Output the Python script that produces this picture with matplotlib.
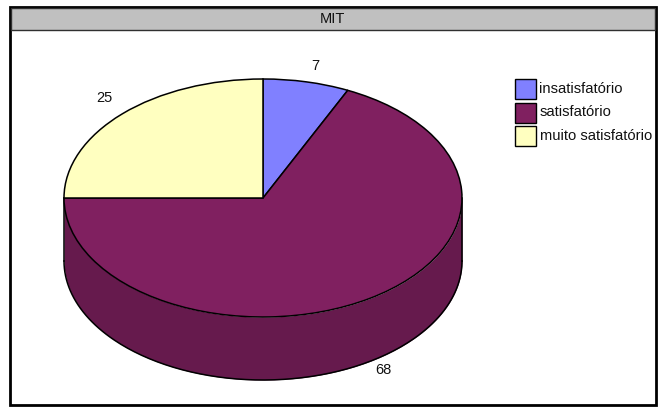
import matplotlib
matplotlib.use("Agg")
import matplotlib.pyplot as plt
import numpy as np
from matplotlib.patches import Rectangle

plt.rcParams['font.family'] = ['Liberation Sans', 'DejaVu Sans']

# Survey answers
title = "MIT"
categories = ["insatisfatório", "satisfatório", "muito satisfatório"]
values = [7, 68, 25]
colors = ["#8080ff", "#802060", "#ffffc0"]
side_color = "#661a4d"

W, H = 658, 408
fig = plt.figure(figsize=(W / 100, H / 100), dpi=100)

# overlay in pixel coordinates, y pointing down
bg = fig.add_axes([0, 0, 1, 1])
bg.set_xlim(0, W)
bg.set_ylim(H, 0)
bg.axis("off")

# outer frame and title band
bg.add_patch(Rectangle((10, 7), 645.5, 398, fc="white", ec="black", lw=2))
bg.add_patch(Rectangle((11, 8), 643.5, 21.5, fc="#c0c0c0", ec="#303030", lw=1))
bg.text(332.5, 19, title, ha="center", va="center", fontsize=10.5, color="#111111")

# pie squashed into an ellipse, extra thickness drawn below it
left, right, top, bottom = 64, 462, 79, 317
ax = fig.add_axes([left / W, 1 - bottom / H, (right - left) / W, (bottom - top) / H])
depth = 63 / ((bottom - top) / 2)

t = np.linspace(np.pi, 2 * np.pi, 200)
ax.fill_between(np.cos(t), np.sin(t), np.sin(t) - depth, color=side_color, lw=0, clip_on=False, zorder=1)
ax.plot(np.cos(t), np.sin(t) - depth, color="black", lw=1.1, clip_on=False, zorder=2)
ax.plot([-1, -1], [0, -depth], color="black", lw=1.1, clip_on=False, zorder=2)
ax.plot([1, 1], [0, -depth], color="black", lw=1.1, clip_on=False, zorder=2)

wedges, _ = ax.pie(values, colors=colors, startangle=90, counterclock=False, radius=1,
                   wedgeprops=dict(edgecolor="black", linewidth=1.1, zorder=3))
for w in wedges:
    w.set_clip_on(False)
ax.set_aspect("auto")
ax.set_xlim(-1, 1)
ax.set_ylim(-1, 1)

# value labels
label_x = [315, 383.5, 104]
label_y = [66, 370.5, 98.5]
for x, y, v in zip(label_x, label_y, values):
    bg.text(x, y, str(v), ha="center", va="center", fontsize=10.5, color="#111111")

# legend
leg_y = [79, 102.5, 126]
for y, c, name in zip(leg_y, colors, categories):
    bg.add_patch(Rectangle((514.5, y), 21, 20, fc=c, ec="black", lw=1))
    bg.text(539.5, y + 10, name, ha="left", va="center", fontsize=10.6, color="#111111")

fig.savefig("out.png", dpi=100)
